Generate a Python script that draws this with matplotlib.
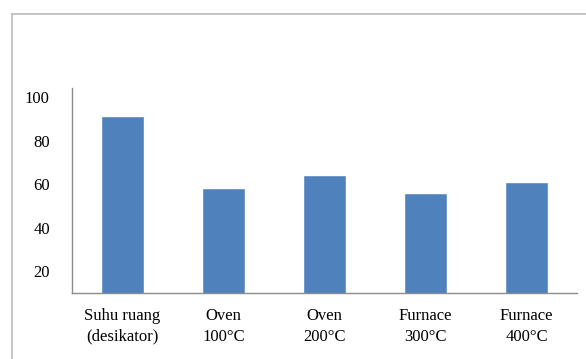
import matplotlib
matplotlib.use("Agg")
import matplotlib.pyplot as plt
from matplotlib.lines import Line2D

categories = ["Suhu ruang\n(desikator)", "Oven\n100°C", "Oven\n200°C", "Furnace\n300°C", "Furnace\n400°C"]
values = [91, 57.7, 63.5, 55.3, 60.4]
yticks = [20, 40, 60, 80, 100]

plt.rcParams["font.family"] = ["Liberation Serif", "DejaVu Serif"]

fig = plt.figure(figsize=(5.86, 3.59), dpi=100)
ax = fig.add_axes([72 / 586, 1 - 292.7 / 359, 505 / 586, (292.7 - 88) / 359])

x = range(len(categories))
ax.bar(x, values, width=0.405, color="#4F81BD", edgecolor="#6C95C8", linewidth=0.6)

ax.set_xlim(-0.5, len(categories) - 0.5)
ax.set_ylim(10, 104.2)
ax.set_yticks(yticks)
ax.set_yticklabels([str(v) for v in yticks])
ax.set_xticks(list(x))
ax.set_xticklabels(categories, linespacing=1.4)

for side in ("top", "right"):
    ax.spines[side].set_visible(False)
for side in ("left", "bottom"):
    ax.spines[side].set_color("#8C8C8C")
    ax.spines[side].set_linewidth(1.0)

ax.tick_params(axis="y", length=0, pad=16, labelsize=12, colors="#000000")
ax.tick_params(axis="x", length=0, pad=11, labelsize=12, colors="#000000")

# outer chart-area frame
fig.add_artist(Line2D([11.5 / 586, 11.5 / 586], [0, 1 - 13.5 / 359], transform=fig.transFigure,
                      color="#BBBBBB", linewidth=1.2))
fig.add_artist(Line2D([11.5 / 586, 1], [1 - 13.5 / 359, 1 - 13.5 / 359], transform=fig.transFigure,
                      color="#BBBBBB", linewidth=1.2))

fig.savefig("out.png", dpi=100)
